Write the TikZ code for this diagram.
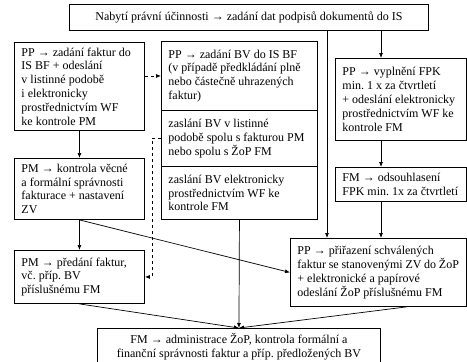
\documentclass[tikz,border=0pt]{standalone}
\usepackage{fontspec}
\setmainfont{Liberation Serif}
\usetikzlibrary{arrows.meta}

\begin{document}
\begin{tikzpicture}[x=1pt,y=-1pt,line width=0.7pt,>={Latex[length=5pt,width=4pt]},
	box/.style={draw,line width=0.9pt,anchor=north west,inner xsep=7pt,inner ysep=0pt,align=flush left,font=\fontsize{12}{13.8}\selectfont\frenchspacing}]
\path[use as bounding box] (0,0) rectangle (467,362);
\clip (0,0) rectangle (467,362);
\coordinate (split) at (327,0);
\coordinate (rcol) at (381,0);
\node [box,align=flush center,minimum width=359pt,minimum height=26pt] (t) at (69,4) {Nabytí právní účinnosti → zadání dat podpisů dokumentů do IS};
\node [box,text width=116pt,minimum height=88pt] (a) at (14,42) {PP → zadání faktur do\\ IS BF + odeslání\\ v listinné podobě\\ i elektronicky\\ prostřednictvím WF\\ ke kontrole PM};
\node [box,text width=142pt,minimum height=69pt] (b1) at (161,41) {PP → zadání BV do IS BF\\ (v případě předkládání plně\\ nebo částečně uhrazených\\ faktur)};
\node [box,text width=142pt,minimum height=56pt] (b2) at (161,110) {zaslání BV v listinné\\ podobě spolu s fakturou PM\\ nebo spolu s ŽoP FM};
\node [box,text width=142pt,minimum height=53pt] (b3) at (161,166) {zaslání BV elektronicky\\ prostřednictvím WF ke\\ kontrole FM};
\node [box,text width=116pt,minimum height=61pt] (c) at (14,158) {PM → kontrola věcné\\ a formální správnosti\\ fakturace + nastavení\\ ZV};
\node [box,text width=116pt,minimum height=53pt] (d) at (14,250) {PM → předání faktur,\\ vč. příp. BV\\ příslušnému FM};
\node [box,text width=116.5pt,minimum height=82pt] (r1) at (335,58) {PP → vyplnění FPK\\ min. 1 x za čtvrtletí\\ + odeslání elektronicky\\ prostřednictvím WF ke\\ kontrole FM};
\node [box,text width=116.5pt,minimum height=34pt] (r2) at (335,167) {FM → odsouhlasení\\ FPK min. 1x za čtvrtletí};
\node [box,text width=161.5pt,minimum height=68pt] (e) at (290,238) {PP → přiřazení schválených\\ faktur se stanovenými ZV do ŽoP\\ + elektronické a papírové\\ odeslání ŽoP příslušnému FM};
\node [box,align=flush center,minimum width=283pt,minimum height=36pt] (f) at (97,328) {FM → administrace ŽoP, kontrola formální a\\ finanční správnosti faktur a příp. předložených BV};
% spojnice
\draw[dashed,->] (a.east |- b1.west) -- (b1.west);
\draw[dashed,->] (b2.west) -- ++(-9,0) |- (d.east);
\draw[->] (a.south) -- (c.north);
\draw[->] (c.south) -- (d.north);
\draw[->] (c.south) -- (e.west);
\draw[->] (t.south -| split) -- (e.north -| split);
\draw[->] (t.south -| rcol) -- (r1.north -| rcol);
\draw[->] (r1.south -| rcol) -- (r2.north -| rcol);
\draw[->] (r2.south -| rcol) -- (e.north -| rcol);
\draw[->] (d.south) -- (f.north);
\draw[->] (b3.south) -- (f.north);
\draw[->] ([xshift=-60pt]e.south east) -- (f.north);
\end{tikzpicture}
\end{document}
